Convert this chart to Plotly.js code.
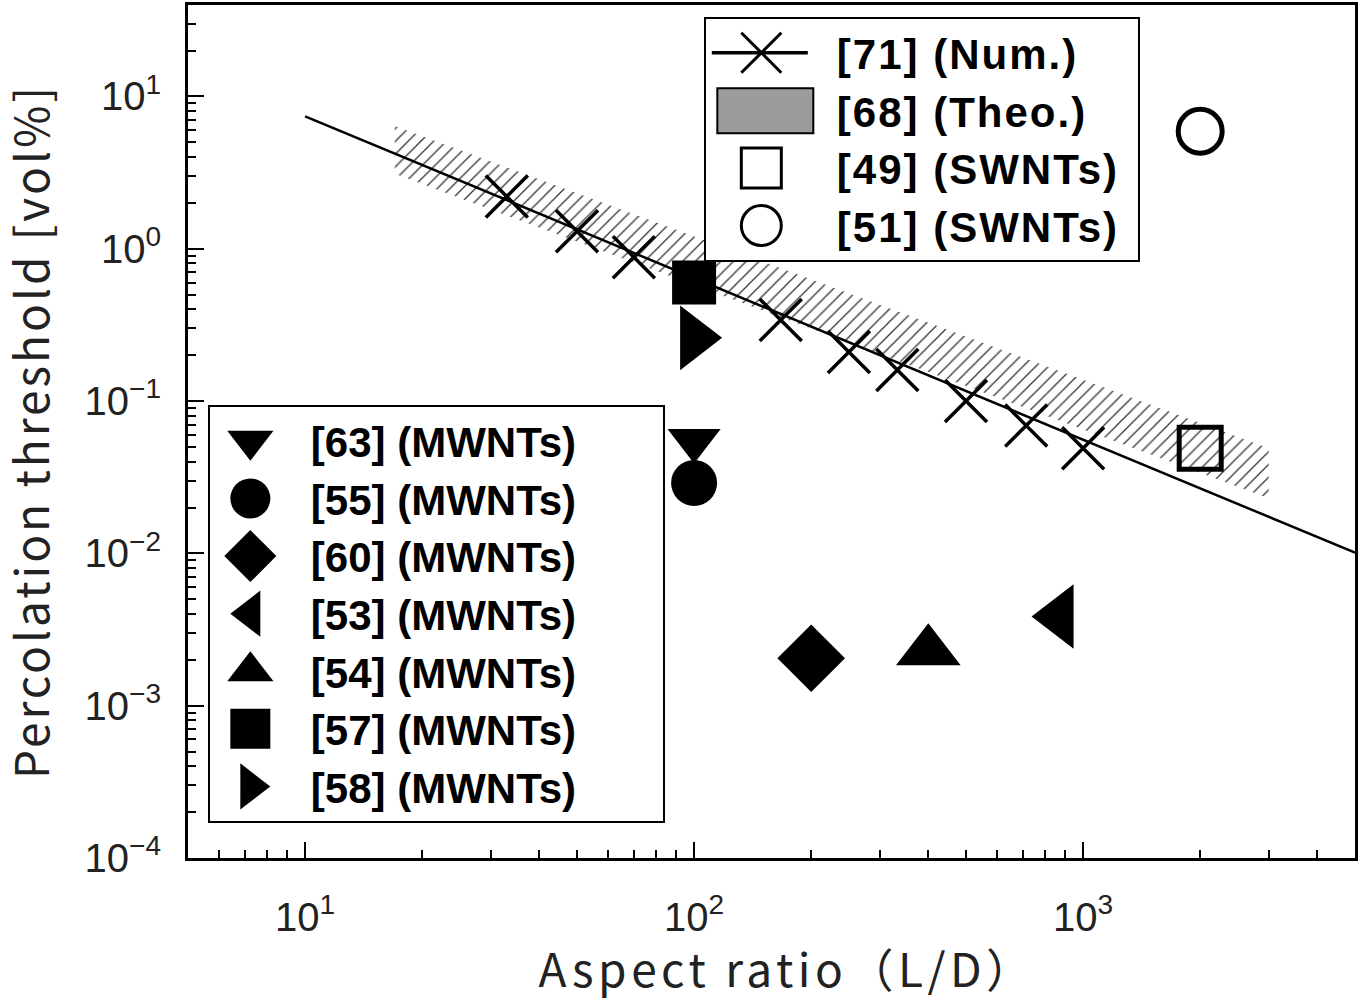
<!DOCTYPE html>
<html>
<head>
<meta charset="utf-8">
<script src="https://cdn.plot.ly/plotly-3.0.1.min.js"></script>
<style>
html,body{margin:0;padding:0;background:#fff;}
text.legendtext{letter-spacing:2px;}
text.xtitle{letter-spacing:4.5px;}
text.ytitle{letter-spacing:3px;}
</style>
</head>
<body>
<div id="chart" style="width:1359px;height:1000px;"></div>
<script>
// ---- data ----
const numX = [33, 50, 70, 167, 250, 333, 500, 714, 1000];
const numY = [2.2, 1.3, 0.88, 0.34, 0.21, 0.16, 0.10, 0.069, 0.049];
const fitX = [10, 5000];
const fitY = [7.4, 0.0101];
const theoX = [17, 3000];
const theoUpper = [6.4, 0.049];
const theoLower = [3.1, 0.023];
const swnt49X = [2000], swnt49Y = [0.049];
const swnt51X = [2000], swnt51Y = [5.9];
const mw63X = [100], mw63Y = [0.055];
const mw55X = [100], mw55Y = [0.029];
const mw60X = [200], mw60Y = [0.00205];
const mw53X = [870], mw53Y = [0.00385];
const mw54X = [400], mw54Y = [0.00228];
const mw57X = [100], mw57Y = [0.60];
const mw58X = [100], mw58Y = [0.26];
const xTickVals = [10, 100, 1000];
const xTickText = ['10<sup>1</sup>', '10<sup>2</sup>', '10<sup>3</sup>'];
const yTickVals = [1e-4, 1e-3, 1e-2, 1e-1, 1, 10];
const yTickText = ['10<sup>−4</sup>', '10<sup>−3</sup>', '10<sup>−2</sup>', '10<sup>−1</sup>', '10<sup>0</sup>', '10<sup>1</sup>'];

// minor tick positions (2..9 within each decade)
function minors(lo, hi) {
  const out = [];
  for (let e = lo; e < hi; e++) for (let m = 2; m <= 9; m++) out.push(m * Math.pow(10, e));
  return out;
}

// interleave nulls so markers are not joined, but legend still shows a line
function gapped(arr) { const o = []; arr.forEach((v, i) => { o.push(v); if (i < arr.length - 1) o.push(null); }); return o; }

const legFont = {family: 'Liberation Sans, Arial, sans-serif', size: 42, color: '#000', weight: 'bold'};
const pad1 = '\u00a0';
const pad2 = '\u00a0\u00a0\u00a0\u00a0\u00a0\u00a0\u00a0';

const traces = [
  {x: theoX.concat(theoX.slice().reverse()), y: theoUpper.concat(theoLower.slice().reverse()),
   type: 'scatter', mode: 'lines', fill: 'toself', line: {width: 0, color: 'rgba(0,0,0,0)'},
   fillcolor: 'white', fillpattern: {shape: '/', fgcolor: '#333', bgcolor: 'white', size: 9, solidity: 0.14},
   name: '<b>[68] (Theo.)</b>' + pad1, legend: 'legend', legendrank: 2, hoverinfo: 'skip'},
  {x: fitX, y: fitY, type: 'scatter', mode: 'lines', line: {color: '#000', width: 2.5},
   showlegend: false, legendgroup: 'num'},
  {x: gapped(numX), y: gapped(numY), type: 'scatter', mode: 'lines+markers', connectgaps: false,
   line: {color: '#000', width: 3.5},
   marker: {symbol: 'x-thin-open', size: 42, color: '#000', line: {width: 3.5, color: '#000'}},
   name: '<b>[71] (Num.)</b>' + pad1, legend: 'legend', legendgroup: 'num', legendrank: 1},
  {x: swnt49X, y: swnt49Y, type: 'scatter', mode: 'markers',
   marker: {symbol: 'square-open', size: 42, color: '#000', line: {width: 5, color: '#000'}},
   name: '<b>[49] (SWNTs)</b>' + pad1, legend: 'legend', legendrank: 3},
  {x: swnt51X, y: swnt51Y, type: 'scatter', mode: 'markers',
   marker: {symbol: 'circle-open', size: 44, color: '#000', line: {width: 5, color: '#000'}},
   name: '<b>[51] (SWNTs)</b>' + pad1, legend: 'legend', legendrank: 4},
  {x: mw63X, y: mw63Y, type: 'scatter', mode: 'markers',
   marker: {symbol: 'triangle-down', size: 46, color: '#000'}, name: '<b>[63] (MWNTs)</b>' + pad2, legend: 'legend2', legendrank: 1},
  {x: mw55X, y: mw55Y, type: 'scatter', mode: 'markers',
   marker: {symbol: 'circle', size: 46, color: '#000'}, name: '<b>[55] (MWNTs)</b>' + pad2, legend: 'legend2', legendrank: 2},
  {x: mw60X, y: mw60Y, type: 'scatter', mode: 'markers',
   marker: {symbol: 'diamond', size: 52, color: '#000'}, name: '<b>[60] (MWNTs)</b>' + pad2, legend: 'legend2', legendrank: 3},
  {x: mw53X, y: mw53Y, type: 'scatter', mode: 'markers',
   marker: {symbol: 'triangle-left', size: 56, color: '#000'}, name: '<b>[53] (MWNTs)</b>' + pad2, legend: 'legend2', legendrank: 4},
  {x: mw54X, y: mw54Y, type: 'scatter', mode: 'markers',
   marker: {symbol: 'triangle-up', size: 56, color: '#000'}, name: '<b>[54] (MWNTs)</b>' + pad2, legend: 'legend2', legendrank: 5},
  {x: mw57X, y: mw57Y, type: 'scatter', mode: 'markers',
   marker: {symbol: 'square', size: 44, color: '#000'}, name: '<b>[57] (MWNTs)</b>' + pad2, legend: 'legend2', legendrank: 6},
  {x: mw58X, y: mw58Y, type: 'scatter', mode: 'markers',
   marker: {symbol: 'triangle-right', size: 56, color: '#000'}, name: '<b>[58] (MWNTs)</b>' + pad2, legend: 'legend2', legendrank: 7}
];

const tickFont = {family: 'Liberation Sans, Arial, sans-serif', size: 40, color: '#222'};
const titleFont = {family: 'Noto Sans CJK JP, sans-serif', size: 46, color: '#222'};

const layout = {
  width: 1359, height: 1000,
  margin: {l: 188, r: 4, t: 5, b: 142},
  paper_bgcolor: '#fff', plot_bgcolor: '#fff',
  showlegend: true,
  xaxis: {
    type: 'log', range: [Math.log10(5), Math.log10(5000)],
    showgrid: false, zeroline: false,
    showline: true, linecolor: '#000', linewidth: 3, mirror: true,
    ticks: 'inside', ticklen: 16, tickwidth: 2, tickcolor: '#000',
    tickvals: xTickVals, ticktext: xTickText, tickfont: tickFont, ticklabelstandoff: 22,
    minor: {tickvals: minors(0, 4), ticks: 'inside', ticklen: 8, tickwidth: 2, tickcolor: '#000', showgrid: false},
    title: {text: 'Aspect ratio（L/D）', font: titleFont, standoff: 8}
  },
  yaxis: {
    type: 'log', range: [-4, 1.6],
    showgrid: false, zeroline: false,
    showline: true, linecolor: '#000', linewidth: 3, mirror: true,
    ticks: 'inside', ticklen: 16, tickwidth: 2, tickcolor: '#000',
    tickvals: yTickVals, ticktext: yTickText, tickfont: tickFont, ticklabelstandoff: 16,
    minor: {tickvals: minors(-4, 2), ticks: 'inside', ticklen: 8, tickwidth: 2, tickcolor: '#000', showgrid: false},
    title: {text: 'Percolation threshold [vol%]', font: titleFont, standoff: 36}
  },
  legend: {
    x: 0.442, y: 0.986, xanchor: 'left', yanchor: 'top',
    bgcolor: '#fff', bordercolor: '#000', borderwidth: 2,
    font: legFont, itemwidth: 121, tracegroupgap: 0, traceorder: 'normal', itemclick: false
  },
  legend2: {
    x: 0.017, y: 0.531, xanchor: 'left', yanchor: 'top',
    bgcolor: '#fff', bordercolor: '#000', borderwidth: 2,
    font: legFont, itemwidth: 91, tracegroupgap: 0, traceorder: 'normal', itemclick: false
  }
};

Plotly.newPlot('chart', traces, layout, {staticPlot: true}).then(function () {
  // enlarge legend symbols to match the reference
  document.querySelectorAll('.legendpoints path.scatterpts').forEach(function (p) {
    const t = p.getAttribute('transform') || '';
    p.setAttribute('transform', t + ' translate(-10,0) scale(2.5)');
    p.style.vectorEffect = 'non-scaling-stroke';
    const sw = parseFloat(p.style.strokeWidth || '0');
    if (sw > 0) p.style.strokeWidth = Math.min(sw, 3) + 'px';
  });
  document.querySelectorAll('.legendlines path').forEach(function (p) {
    const b = p.getBBox();
    p.setAttribute('d', 'M' + (b.x + 1) + ',0h96');
  });
  document.querySelectorAll('.legendfill path').forEach(function (p) {
    const b = p.getBBox();
    const x0 = b.x + b.width / 2 - 48 - 6;
    p.setAttribute('d', 'M' + x0 + ',-22h96v45h-96z');
    p.style.fill = '#9c9c9c';
    p.style.stroke = '#000'; p.style.strokeWidth = '2px';
  });
  const yt = document.querySelector('g.g-ytitle');
  if (yt) yt.setAttribute('transform', (yt.getAttribute('transform') || '') + ' translate(-4,0)');
  const xt = document.querySelector('g.g-xtitle');
  if (xt) xt.setAttribute('transform', (xt.getAttribute('transform') || '') + ' translate(16,0)');
});
</script>
</body>
</html>
